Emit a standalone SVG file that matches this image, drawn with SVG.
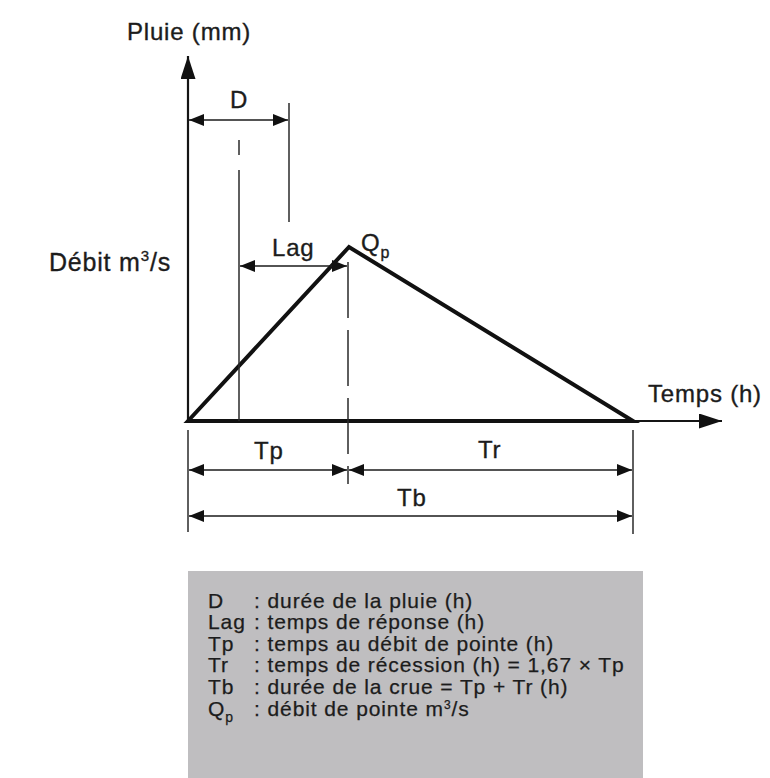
<svg xmlns="http://www.w3.org/2000/svg" width="770" height="778" viewBox="0 0 770 778">
<style>
text{font-family:"Liberation Sans",Arial,sans-serif;fill:#1c1c1c;stroke:#1c1c1c;stroke-width:0.35}
.lbl{font-size:24px;letter-spacing:0.8px}
.leg{font-size:21px;letter-spacing:0.9px;stroke-width:0.25}
.ax{stroke:#151515;stroke-width:2.2;fill:none}
.hy{stroke:#111;stroke-width:4;fill:none;stroke-linejoin:miter}
.dim{stroke:#1a1a1a;stroke-width:1.7;fill:none}
.tick{stroke:#2a2a2a;stroke-width:1.5;fill:none}
</style>
<defs>
<marker id="ah" viewBox="0 0 15 12" refX="15" refY="6" markerWidth="15" markerHeight="12" orient="auto-start-reverse" markerUnits="userSpaceOnUse"><path d="M0,0 L15,6 L0,12 z" fill="#111"/></marker>
<marker id="axh" viewBox="0 0 23 15" refX="23" refY="7.5" markerWidth="23" markerHeight="15" orient="auto" markerUnits="userSpaceOnUse"><path d="M0,0 L23,7.5 L0,15 z" fill="#111"/></marker>
</defs>
<rect width="770" height="778" fill="#ffffff"/>
<g id="axes">
<line class="ax" x1="188" y1="421" x2="188" y2="56" marker-end="url(#axh)"/>
<line class="ax" x1="630" y1="421" x2="722" y2="421" marker-end="url(#axh)"/>
<text id="pluie" class="lbl" x="127" y="40">Pluie (mm)</text>
<text id="debit" class="lbl" x="49" y="271" style="font-size:25px">Débit m<tspan font-size="15" dy="-10">3</tspan><tspan dy="10">/s</tspan></text>
<text id="temps" class="lbl" x="648" y="402">Temps (h)</text>
</g>
<g id="hydrograph">
<path class="hy" d="M188,421 L349,247 L633,421 Z"/>
<text id="qp" class="lbl" x="361" y="251">Q<tspan font-size="16" dy="7">p</tspan></text>
</g>
<g id="connectors">
<line class="tick" x1="289" y1="103" x2="289" y2="222"/>
<line class="tick" x1="239" y1="140" x2="239" y2="155"/>
<line class="tick" x1="239" y1="170" x2="239" y2="421"/>
<line class="tick" x1="348" y1="262" x2="348" y2="484" stroke-dasharray="56 12"/>
<line class="tick" x1="188" y1="430" x2="188" y2="532"/>
<line class="tick" x1="633" y1="430" x2="633" y2="534"/>
<line class="dim" x1="189" y1="120" x2="288" y2="120" marker-start="url(#ah)" marker-end="url(#ah)"/>
<line class="dim" x1="240" y1="266" x2="347" y2="266" marker-start="url(#ah)" marker-end="url(#ah)"/>
<line class="dim" x1="189" y1="470" x2="347" y2="470" marker-start="url(#ah)" marker-end="url(#ah)"/>
<line class="dim" x1="349" y1="470" x2="632" y2="470" marker-start="url(#ah)" marker-end="url(#ah)"/>
<line class="dim" x1="189" y1="516" x2="632" y2="516" marker-start="url(#ah)" marker-end="url(#ah)"/>
</g>
<g id="labels">
<text id="d" class="lbl" x="230" y="108">D</text>
<text id="lag" class="lbl" x="272" y="256">Lag</text>
<text id="tp" class="lbl" x="254" y="459">Tp</text>
<text id="tr" class="lbl" x="478" y="458">Tr</text>
<text id="tb" class="lbl" x="397" y="506">Tb</text>
</g>
<g id="legend">
<rect x="188" y="571" width="455" height="207" fill="#bfbec0"/>
<text class="leg" x="208" y="608">D</text><text class="leg" x="254" y="608">: durée de la pluie (h)</text>
<text class="leg" x="208" y="629">Lag</text><text class="leg" x="254" y="629">: temps de réponse (h)</text>
<text class="leg" x="208" y="651">Tp</text><text class="leg" x="254" y="651">: temps au débit de pointe (h)</text>
<text class="leg" x="208" y="672">Tr</text><text class="leg" x="254" y="672">: temps de récession (h) = 1,67 × Tp</text>
<text class="leg" x="208" y="694">Tb</text><text class="leg" x="254" y="694">: durée de la crue = Tp + Tr (h)</text>
<text class="leg" x="208" y="716">Q<tspan font-size="14" dy="6">p</tspan></text><text class="leg" x="254" y="716">: débit de pointe m<tspan font-size="12" dy="-7">3</tspan><tspan dy="7">/s</tspan></text>
</g>
</svg>
